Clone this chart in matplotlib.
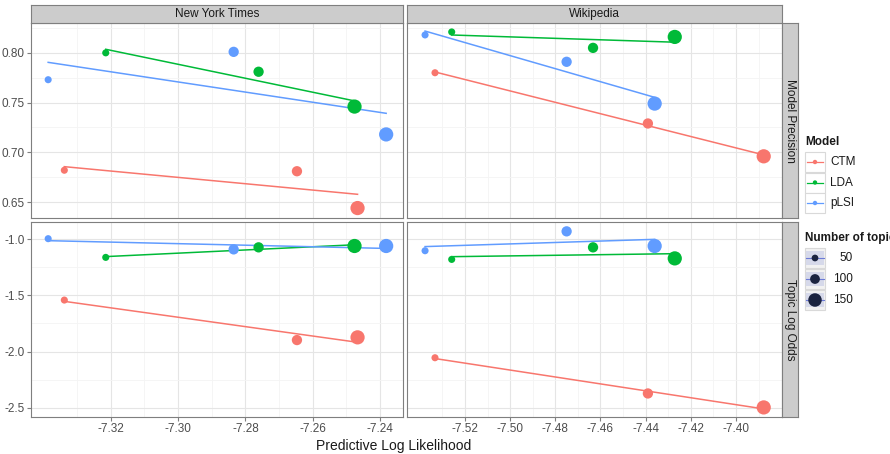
import numpy as np
import matplotlib
matplotlib.use("Agg")
import matplotlib.pyplot as plt
from matplotlib.ticker import FixedLocator, FormatStrFormatter
from matplotlib.patches import Rectangle

plt.rcParams["font.family"] = ["Liberation Sans", "DejaVu Sans"]

# data
models = ["CTM", "LDA", "pLSI"]
topics = [50, 100, 150]
colors = {"CTM": "#F8766D", "LDA": "#00BA38", "pLSI": "#619CFF"}

nyt_ll = {
    "CTM": [-7.3338, -7.2647, -7.2467],
    "LDA": [-7.3215, -7.2761, -7.2476],
    "pLSI": [-7.3386, -7.2835, -7.2382],
}
nyt_prec = {
    "CTM": [0.682, 0.681, 0.644],
    "LDA": [0.800, 0.781, 0.746],
    "pLSI": [0.773, 0.801, 0.718],
}
nyt_odds = {
    "CTM": [-1.542, -1.897, -1.873],
    "LDA": [-1.163, -1.074, -1.062],
    "pLSI": [-0.997, -1.092, -1.062],
}
wiki_ll = {
    "CTM": [-7.5333, -7.4390, -7.3877],
    "LDA": [-7.5259, -7.4633, -7.4271],
    "pLSI": [-7.5377, -7.4750, -7.4360],
}
wiki_prec = {
    "CTM": [0.780, 0.729, 0.696],
    "LDA": [0.821, 0.805, 0.816],
    "pLSI": [0.818, 0.791, 0.749],
}
wiki_odds = {
    "CTM": [-2.054, -2.371, -2.495],
    "LDA": [-1.181, -1.074, -1.172],
    "pLSI": [-1.104, -0.932, -1.062],
}

nyt_xticks = [-7.32, -7.30, -7.28, -7.26, -7.24]
wiki_xticks = [-7.52, -7.50, -7.48, -7.46, -7.44, -7.42, -7.40]
prec_yticks = [0.65, 0.70, 0.75, 0.80]
odds_yticks = [-2.5, -2.0, -1.5, -1.0]

W, H = 890, 454
fig = plt.figure(figsize=(W / 100, H / 100), dpi=100)
fig.patch.set_facecolor("white")


def box(x0, y0, x1, y1):
    # pixel box -> figure fraction rect
    return [x0 / W, 1 - y1 / H, (x1 - x0) / W, (y1 - y0) / H]


def minors(ticks, lo, hi):
    step = ticks[1] - ticks[0]
    out = []
    t = ticks[0] - step / 2
    while t > lo:
        out.append(t)
        t -= step
    t = ticks[0] + step / 2
    while t < hi:
        out.append(t)
        t += step
    return out


GREY50 = "#7F7F7F"
TICKC = "#4D4D4D"
sizes = {50: 26, 100: 55, 150: 105}

panels = [
    (box(31, 23, 403, 218), nyt_ll, nyt_prec, (-7.3437, -7.2332), (0.634, 0.830),
     nyt_xticks, prec_yticks, "%.2f", True, False),
    (box(407, 23, 782, 218), wiki_ll, wiki_prec, (-7.5457, -7.3796), (0.634, 0.830),
     wiki_xticks, prec_yticks, "%.2f", False, False),
    (box(31, 222, 403, 417), nyt_ll, nyt_odds, (-7.3437, -7.2332), (-2.58, -0.849),
     nyt_xticks, odds_yticks, "%.1f", True, True),
    (box(407, 222, 782, 417), wiki_ll, wiki_odds, (-7.5457, -7.3796), (-2.58, -0.849),
     wiki_xticks, odds_yticks, "%.1f", False, True),
]

for rect, xs, ys, xlim, ylim, xt, yt, yfmt, showy, showx in panels:
    ax = fig.add_axes(rect)
    ax.set_xlim(*xlim)
    ax.set_ylim(*ylim)
    ax.xaxis.set_major_locator(FixedLocator(xt))
    ax.xaxis.set_minor_locator(FixedLocator(minors(xt, *xlim)))
    ax.yaxis.set_major_locator(FixedLocator(yt))
    ax.yaxis.set_minor_locator(FixedLocator(minors(yt, *ylim)))
    ax.xaxis.set_major_formatter(FormatStrFormatter("%.2f"))
    ax.yaxis.set_major_formatter(FormatStrFormatter(yfmt))
    ax.grid(True, which="major", color="#E5E5E5", lw=0.8)
    ax.grid(True, which="minor", color="#F4F4F4", lw=0.6)
    ax.set_axisbelow(True)
    for s in ax.spines.values():
        s.set_color(GREY50)
        s.set_linewidth(0.8)
    ax.tick_params(which="minor", length=0)
    ax.tick_params(which="major", length=3, color=GREY50, labelsize=8.5,
                   labelcolor=TICKC, pad=1.5)
    if not showy:
        ax.tick_params(axis="y", labelleft=False, length=0)
    if not showx:
        ax.tick_params(axis="x", labelbottom=False, length=0)

    for m in models:
        x = np.array(xs[m])
        y = np.array(ys[m])
        k, b = np.polyfit(x, y, 1)
        xx = np.array([x.min(), x.max()])
        ax.plot(xx, k * xx + b, color=colors[m], lw=1.1, zorder=2)
        ax.scatter(x, y, s=[sizes[t] for t in topics], color=colors[m],
                   edgecolors="none", zorder=3)


# strips
def strip(x0, y0, x1, y1, text, rot=0):
    sa = fig.add_axes(box(x0, y0, x1, y1))
    sa.set_xticks([])
    sa.set_yticks([])
    sa.set_facecolor("#CCCCCC")
    for s in sa.spines.values():
        s.set_color(GREY50)
        s.set_linewidth(0.8)
    sa.text(0.5, 0.5, text, rotation=rot, ha="center", va="center",
            fontsize=8.5, color="#1A1A1A", transform=sa.transAxes)


strip(31, 5, 403, 23, "New York Times")
strip(407, 5, 782, 23, "Wikipedia")
strip(782, 23, 798, 218, "Model Precision", rot=-90)
strip(782, 222, 798, 417, "Topic Log Odds", rot=-90)

fig.text(394 / W, 1 - 446 / H, "Predictive Log Likelihood", ha="center",
         va="center", fontsize=10, color="#1A1A1A")

# legends drawn on an overlay axes in pixel coords
lg = fig.add_axes([0, 0, 1, 1], facecolor="none")
lg.set_xlim(0, W)
lg.set_ylim(H, 0)
lg.axis("off")

lg.text(805, 142, "Model", fontsize=8.5, fontweight="bold", va="center",
        ha="left", color="#1A1A1A")
for i, m in enumerate(models):
    yc = 162 + i * 20.5
    lg.add_patch(Rectangle((805, yc - 10), 20, 20, facecolor="white",
                           edgecolor="#D9D9D9", lw=0.8))
    lg.plot([807, 823], [yc, yc], color=colors[m], lw=0.9)
    lg.scatter([815], [yc], s=10, color=colors[m], edgecolors="none", zorder=3)
    lg.text(830, yc, m, fontsize=8.5, va="center", ha="left", color="#1A1A1A")

# the reference cuts this title at the right edge
lg.text(805, 238, "Number of topics", fontsize=8.5, fontweight="bold",
        va="center", ha="left", color="#1A1A1A", clip_on=False)
for i, t in enumerate(topics):
    yc = 258 + i * 21
    lg.add_patch(Rectangle((805, yc - 10), 20, 20, facecolor="#F2F2F2",
                           edgecolor="#D9D9D9", lw=0.8))
    lg.add_patch(Rectangle((806, yc - 7), 18, 14, facecolor="#D6D9EA",
                           edgecolor="none"))
    lg.plot([806, 824], [yc, yc], color="#6C7BD6", lw=0.8)
    lg.scatter([815], [yc], s=sizes[t] * 0.9, color="#1B2440",
               edgecolors="none", zorder=3)
    lg.text(853, yc, str(t), fontsize=8.5, va="center", ha="right",
            color="#1A1A1A")

fig.savefig("out.png", dpi=100)
